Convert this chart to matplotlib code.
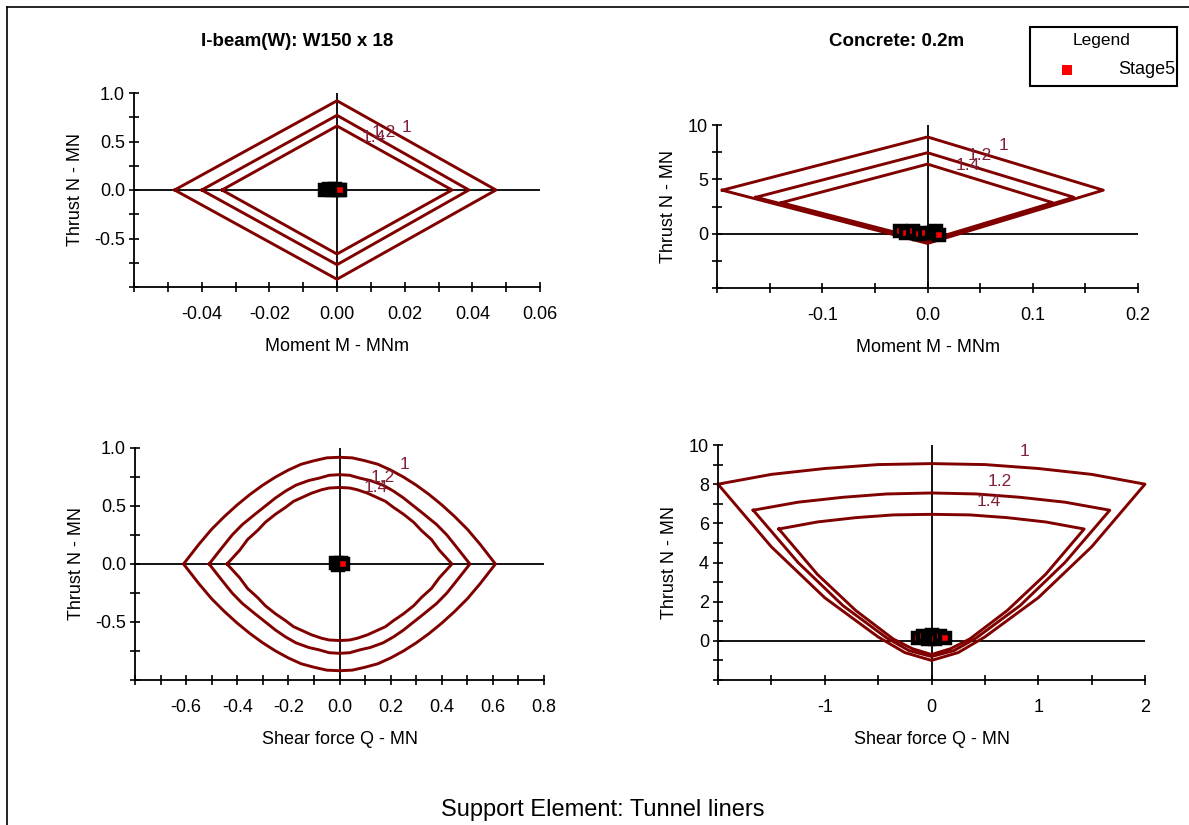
import matplotlib
matplotlib.use("Agg")
import matplotlib.pyplot as plt
from matplotlib.lines import Line2D
from matplotlib.patches import Rectangle

plt.rcParams['font.family'] = ['Liberation Sans', 'DejaVu Sans']

# ---------------- data ----------------
factors = ["1", "1.2", "1.4"]

# Top-left: I-beam moment vs thrust
tl_m = {"1": [-0.048, 0.0, 0.047, 0.0, -0.048],
        "1.2": [-0.040, 0.0, 0.039, 0.0, -0.040],
        "1.4": [-0.034, 0.0, 0.034, 0.0, -0.034]}
tl_n = {"1": [0.0, 0.92, 0.0, -0.92, 0.0],
        "1.2": [0.0, 0.77, 0.0, -0.77, 0.0],
        "1.4": [0.0, 0.66, 0.0, -0.66, 0.0]}

# Top-right: concrete moment vs thrust
tr_m = {"1": [-0.195, 0.0, 0.167, 0.0, -0.195],
        "1.2": [-0.163, 0.0, 0.139, 0.0, -0.163],
        "1.4": [-0.139, 0.0, 0.119, 0.0, -0.139]}
tr_n = {"1": [4.0, 8.9, 4.0, -0.9, 4.0],
        "1.2": [3.35, 7.45, 3.35, -0.75, 3.35],
        "1.4": [2.85, 6.4, 2.85, -0.64, 2.85]}

# Bottom-left: I-beam shear vs thrust
bl_q = {"1": [-0.61, -0.55, -0.5, -0.45, -0.4, -0.35, -0.3, -0.25, -0.2, -0.15, -0.1, -0.05, 0.0,
              0.05, 0.1, 0.15, 0.2, 0.25, 0.3, 0.35, 0.4, 0.45, 0.5, 0.55, 0.61,
              0.55, 0.5, 0.45, 0.4, 0.35, 0.3, 0.25, 0.2, 0.15, 0.1, 0.05, 0.0,
              -0.05, -0.1, -0.15, -0.2, -0.25, -0.3, -0.35, -0.4, -0.45, -0.5, -0.55, -0.61],
        "1.2": [-0.51, -0.46, -0.42, -0.38, -0.33, -0.29, -0.25, -0.21, -0.17, -0.12, -0.08, -0.04, 0.0,
                0.04, 0.08, 0.12, 0.17, 0.21, 0.25, 0.29, 0.33, 0.38, 0.42, 0.46, 0.51,
                0.46, 0.42, 0.38, 0.33, 0.29, 0.25, 0.21, 0.17, 0.12, 0.08, 0.04, 0.0,
                -0.04, -0.08, -0.12, -0.17, -0.21, -0.25, -0.29, -0.33, -0.38, -0.42, -0.46, -0.51],
        "1.4": [-0.44, -0.39, -0.36, -0.32, -0.29, -0.25, -0.21, -0.18, -0.14, -0.11, -0.07, -0.04, 0.0,
                0.04, 0.07, 0.11, 0.14, 0.18, 0.21, 0.25, 0.29, 0.32, 0.36, 0.39, 0.44,
                0.39, 0.36, 0.32, 0.29, 0.25, 0.21, 0.18, 0.14, 0.11, 0.07, 0.04, 0.0,
                -0.04, -0.07, -0.11, -0.14, -0.18, -0.21, -0.25, -0.29, -0.32, -0.36, -0.39, -0.44]}
bl_n = {"1": [0.0, 0.17, 0.30, 0.41, 0.51, 0.60, 0.68, 0.75, 0.81, 0.86, 0.89, 0.915, 0.92,
              0.915, 0.89, 0.86, 0.81, 0.75, 0.68, 0.60, 0.51, 0.41, 0.30, 0.17, 0.0,
              -0.17, -0.30, -0.41, -0.51, -0.60, -0.68, -0.75, -0.81, -0.86, -0.89, -0.915, -0.92,
              -0.915, -0.89, -0.86, -0.81, -0.75, -0.68, -0.60, -0.51, -0.41, -0.30, -0.17, 0.0],
        "1.2": [0.0, 0.14, 0.25, 0.34, 0.43, 0.50, 0.57, 0.63, 0.68, 0.72, 0.74, 0.765, 0.77,
                0.765, 0.74, 0.72, 0.68, 0.63, 0.57, 0.50, 0.43, 0.34, 0.25, 0.14, 0.0,
                -0.14, -0.25, -0.34, -0.43, -0.50, -0.57, -0.63, -0.68, -0.72, -0.74, -0.765, -0.77,
                -0.765, -0.74, -0.72, -0.68, -0.63, -0.57, -0.50, -0.43, -0.34, -0.25, -0.14, 0.0],
        "1.4": [0.0, 0.12, 0.21, 0.29, 0.36, 0.43, 0.49, 0.54, 0.58, 0.61, 0.64, 0.655, 0.66,
                0.655, 0.64, 0.61, 0.58, 0.54, 0.49, 0.43, 0.36, 0.29, 0.21, 0.12, 0.0,
                -0.12, -0.21, -0.29, -0.36, -0.43, -0.49, -0.54, -0.58, -0.61, -0.64, -0.655, -0.66,
                -0.655, -0.64, -0.61, -0.58, -0.54, -0.49, -0.43, -0.36, -0.29, -0.21, -0.12, 0.0]}

# Bottom-right: concrete shear vs thrust
br_q = {"1": [-2.0, -1.5, -1.0, -0.5, 0.0, 0.5, 1.0, 1.5, 2.0,
              1.5, 1.0, 0.5, 0.25, 0.0, -0.25, -0.5, -1.0, -1.5, -2.0],
        "1.2": [-1.67, -1.25, -0.83, -0.42, 0.0, 0.42, 0.83, 1.25, 1.67,
                1.25, 0.83, 0.42, 0.21, 0.0, -0.21, -0.42, -0.83, -1.25, -1.67],
        "1.4": [-1.43, -1.07, -0.71, -0.36, 0.0, 0.36, 0.71, 1.07, 1.43,
                1.07, 0.71, 0.36, 0.18, 0.0, -0.18, -0.36, -0.71, -1.07, -1.43]}
br_n = {"1": [8.0, 8.5, 8.8, 9.0, 9.05, 9.0, 8.8, 8.5, 8.0,
              4.8, 2.2, 0.2, -0.6, -1.0, -0.6, 0.2, 2.2, 4.8, 8.0],
        "1.2": [6.67, 7.08, 7.33, 7.5, 7.55, 7.5, 7.33, 7.08, 6.67,
                4.0, 1.8, 0.15, -0.5, -0.8, -0.5, 0.15, 1.8, 4.0, 6.67],
        "1.4": [5.71, 6.07, 6.29, 6.43, 6.46, 6.43, 6.29, 6.07, 5.71,
                3.4, 1.55, 0.1, -0.4, -0.7, -0.4, 0.1, 1.55, 3.4, 5.71]}

# Stage5 points
tl_pts_m = [-0.0035, -0.0025, -0.0015, -0.0005, 0.0005, 0.001]
tl_pts_n = [0.005, 0.01, 0.0, 0.01, 0.005, 0.0]
tr_pts_m = [-0.026, -0.02, -0.014, -0.008, -0.002, 0.004, 0.008, 0.011]
tr_pts_n = [0.2, 0.1, 0.25, 0.0, 0.1, 0.05, 0.2, -0.1]
bl_pts_q = [-0.012, -0.004, 0.004, 0.012]
bl_pts_n = [0.01, -0.005, 0.005, 0.0]
br_pts_q = [-0.13, -0.08, -0.03, 0.0, 0.03, 0.08, 0.13]
br_pts_n = [0.15, 0.25, 0.1, 0.3, 0.1, 0.25, 0.15]

# label positions (x, y) for factor labels
tl_lab = {"1": (0.0205, 0.645), "1.2": (0.0138, 0.59), "1.4": (0.011, 0.54)}
tr_lab = {"1": (0.072, 8.15), "1.2": (0.050, 7.2), "1.4": (0.038, 6.3)}
bl_lab = {"1": (0.254, 0.86), "1.2": (0.168, 0.75), "1.4": (0.14, 0.66)}
br_lab = {"1": (0.87, 9.65), "1.2": (0.64, 8.16), "1.4": (0.54, 7.14)}

# axis ticks
tl_xticks = [-0.06, -0.05, -0.04, -0.03, -0.02, -0.01, 0.0, 0.01, 0.02, 0.03, 0.04, 0.05, 0.06]
tl_xlabels = ["", "", "-0.04", "", "-0.02", "", "0.00", "", "0.02", "", "0.04", "", "0.06"]
tl_yticks = [-1.0, -0.75, -0.5, -0.25, 0.0, 0.25, 0.5, 0.75, 1.0]
tl_ylabels = ["", "", "-0.5", "", "0.0", "", "0.5", "", "1.0"]
tr_xticks = [-0.2, -0.15, -0.1, -0.05, 0.0, 0.05, 0.1, 0.15, 0.2]
tr_xlabels = ["", "", "-0.1", "", "0.0", "", "0.1", "", "0.2"]
tr_yticks = [-5, -2.5, 0, 2.5, 5, 7.5, 10]
tr_ylabels = ["", "", "0", "", "5", "", "10"]
bl_xticks = [-0.8, -0.7, -0.6, -0.5, -0.4, -0.3, -0.2, -0.1, 0.0, 0.1, 0.2, 0.3, 0.4, 0.5, 0.6, 0.7, 0.8]
bl_xlabels = ["", "", "-0.6", "", "-0.4", "", "-0.2", "", "0.0", "", "0.2", "", "0.4", "", "0.6", "", "0.8"]
bl_yticks = tl_yticks
bl_ylabels = tl_ylabels
br_xticks = [-2, -1.5, -1, -0.5, 0, 0.5, 1, 1.5, 2]
br_xlabels = ["", "", "-1", "", "0", "", "1", "", "2"]
br_yticks = [-2, -1, 0, 1, 2, 3, 4, 5, 6, 7, 8, 9, 10]
br_ylabels = ["", "", "0", "", "2", "", "4", "", "6", "", "8", "", "10"]

# ---------------- drawing ----------------
W, H = 1189, 825
fig = plt.figure(figsize=(W / 100, H / 100), dpi=100)
LINE = '#800000'
LABC = '#80203a'
FS = 13


def px_axes(x0, y0, x1, y1):
    return fig.add_axes([x0 / W, 1 - y1 / H, (x1 - x0) / W, (y1 - y0) / H])


def setup(ax, xt, xl, yt, yl, xlabel, ylabel, ypad):
    ax.set_xlim(xt[0], xt[-1])
    ax.set_ylim(yt[0], yt[-1])
    for s in ['top', 'right']:
        ax.spines[s].set_visible(False)
    for s in ['left', 'bottom']:
        ax.spines[s].set_linewidth(1.3)
    ax.set_xticks(xt)
    ax.set_xticklabels(xl)
    ax.set_yticks(yt)
    ax.set_yticklabels(yl)
    ax.tick_params(direction='inout', length=7, width=1.2, labelsize=FS)
    ax.tick_params(axis='x', pad=10)
    ax.tick_params(axis='y', pad=3)
    ax.axhline(0, color='black', lw=1.3, zorder=1)
    ax.axvline(0, color='black', lw=1.3, zorder=1)
    ax.set_xlabel(xlabel, fontsize=FS, labelpad=11)
    ax.set_ylabel(ylabel, fontsize=FS, labelpad=ypad)
    ax.patch.set_alpha(0)


def draw(ax, xs, ys, labs, px, py):
    for f in factors:
        ax.plot(xs[f], ys[f], color=LINE, lw=2.1, zorder=2, clip_on=False)
        ax.text(labs[f][0], labs[f][1], f, color=LABC, fontsize=12.5,
                ha='center', va='center', zorder=3)
    ax.plot(px, py, ls='none', marker='s', ms=7.5, mfc='red', mec='black',
            mew=3.2, zorder=4, clip_on=False)


ax1 = px_axes(134, 93, 540, 287)
setup(ax1, tl_xticks, tl_xlabels, tl_yticks, tl_ylabels,
      "Moment M - MNm", "Thrust N - MN", 7)
draw(ax1, tl_m, tl_n, tl_lab, tl_pts_m, tl_pts_n)

ax2 = px_axes(717, 125, 1138, 288)
setup(ax2, tr_xticks, tr_xlabels, tr_yticks, tr_ylabels,
      "Moment M - MNm", "Thrust N - MN", 8)
draw(ax2, tr_m, tr_n, tr_lab, tr_pts_m, tr_pts_n)

ax3 = px_axes(135, 448, 544, 680)
setup(ax3, bl_xticks, bl_xlabels, bl_yticks, bl_ylabels,
      "Shear force Q - MN", "Thrust N - MN", 7)
draw(ax3, bl_q, bl_n, bl_lab, bl_pts_q, bl_pts_n)

ax4 = px_axes(718, 445, 1145, 680)
setup(ax4, br_xticks, br_xlabels, br_yticks, br_ylabels,
      "Shear force Q - MN", "Thrust N - MN", 8)
draw(ax4, br_q, br_n, br_lab, br_pts_q, br_pts_n)

# titles
fig.text(297 / W, 1 - 42 / H, "I-beam(W): W150 x 18", ha='center', va='center',
         fontsize=13.5, fontweight='bold')
fig.text(897 / W, 1 - 42 / H, "Concrete: 0.2m", ha='center', va='center',
         fontsize=13.5, fontweight='bold')
fig.text(603 / W, 1 - 810 / H, "Support Element: Tunnel liners", ha='center',
         va='center', fontsize=17)

# legend box
fig.patches.append(Rectangle((1030 / W, 1 - 86 / H), 147 / W, 59 / H,
                             transform=fig.transFigure, fill=False,
                             edgecolor='black', lw=1.5))
fig.text(1102 / W, 1 - 41 / H, "Legend", ha='center', va='center', fontsize=12.5)
fig.patches.append(Rectangle((1062 / W, 1 - 75 / H), 10 / W, 10 / H,
                             transform=fig.transFigure, facecolor='red',
                             edgecolor='none'))
fig.text(1175 / W, 1 - 70 / H, "Stage5", ha='right', va='center', fontsize=13)

# figure frame (left and top)
fig.lines.append(Line2D([7 / W, 7 / W], [0, 1 - 7 / H], transform=fig.transFigure,
                        color='black', lw=1.2))
fig.lines.append(Line2D([7 / W, 1], [1 - 7 / H, 1 - 7 / H], transform=fig.transFigure,
                        color='black', lw=1.2))

fig.savefig("out.png", dpi=100)
